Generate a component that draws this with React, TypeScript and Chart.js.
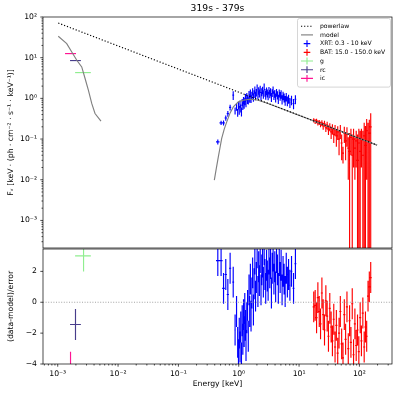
import React, { useEffect, useRef } from 'react';
import { Chart, registerables } from 'chart.js';

Chart.register(...registerables);

const FONT = "'DejaVu Sans', sans-serif";

// ---------- text ----------
const TITLE = '319s - 379s';
const X_LABEL = 'Energy [keV]';
const Y_LABEL_TOP = 'F\u1D65 [keV \u00B7 (ph \u00B7 cm\u207B\u00B2 \u00B7 s\u207B\u00B9 \u00B7 keV\u207B\u00B9)]';
const Y_LABEL_RES = '(data-model)/error';

// ---------- axis ranges ----------
const X_RANGE = [5.7e-4, 347];
const Y_RANGE_TOP = [2.1e-4, 100];
const Y_RANGE_RES = [-4, 3.45];
const RES_TICKS = [-4, -2, 0, 2];

// ---------- model curves ----------
const powerlawE = [1.02e-3, 196];
const powerlawF = [71, 0.071];

const modelOptE = [1.02e-3, 1.41e-3, 1.71e-3, 2.07e-3, 2.5e-3, 2.84e-3, 3.22e-3, 3.66e-3, 4.15e-3, 5.21e-3];
const modelOptF = [33.6, 22.2, 13.8, 8.65, 5.93, 3.08, 1.59, 0.75, 0.425, 0.275];
const modelXE = [0.394, 0.425, 0.459, 0.49, 0.522, 0.575, 0.633, 0.72, 0.814, 0.985, 1.19, 1.54, 2.1, 2.91, 196];
const modelXF = [0.0098, 0.019, 0.0366, 0.062, 0.1035, 0.175, 0.265, 0.44, 0.618, 0.82, 0.9, 0.955, 0.9, 0.77, 0.071];

// ---------- XRT ----------
const xrtE = [
  0.45, 0.51, 0.56, 0.61, 0.66, 0.72, 0.81, 0.87, 0.92, 0.96,
  0.99, 1.02, 1.05, 1.08, 1.11, 1.14, 1.17, 1.20, 1.23, 1.26,
  1.29, 1.32, 1.36, 1.40, 1.44, 1.48, 1.52, 1.56, 1.60, 1.65,
  1.70, 1.75, 1.80, 1.85, 1.90, 1.96, 2.02, 2.08, 2.14, 2.20,
  2.27, 2.34, 2.41, 2.48, 2.56, 2.64, 2.72, 2.80, 2.89, 2.98,
  3.07, 3.17, 3.27, 3.37, 3.48, 3.59, 3.71, 3.83, 3.96, 4.09,
  4.23, 4.38, 4.53, 4.69, 4.86, 5.04, 5.23, 5.43, 5.65, 5.88,
  6.13, 6.40, 6.70, 7.05, 7.50, 8.10, 8.70,
];
const xrtEHalf = [
  0.030, 0.030, 0.028, 0.028, 0.028, 0.030, 0.028, 0.022, 0.018, 0.015,
  0.015, 0.015, 0.015, 0.015, 0.015, 0.015, 0.015, 0.015, 0.015, 0.015,
  0.016, 0.018, 0.020, 0.020, 0.020, 0.020, 0.020, 0.020, 0.022, 0.025,
  0.025, 0.025, 0.025, 0.025, 0.028, 0.030, 0.030, 0.030, 0.030, 0.033,
  0.035, 0.035, 0.035, 0.037, 0.040, 0.040, 0.040, 0.043, 0.045, 0.045,
  0.048, 0.050, 0.050, 0.053, 0.055, 0.058, 0.060, 0.063, 0.065, 0.068,
  0.070, 0.075, 0.078, 0.080, 0.085, 0.090, 0.095, 0.100, 0.110, 0.115,
  0.125, 0.135, 0.150, 0.180, 0.220, 0.280, 0.300,
];
const xrtF = [
  0.085, 0.25, 0.25, 0.33, 0.42, 0.60, 1.20, 0.50, 0.62, 0.45,
  0.68, 0.52, 0.74, 0.58, 0.48, 0.80, 0.66, 0.90, 0.72, 0.86,
  1.05, 0.80, 1.12, 0.95, 0.88, 1.25, 1.02, 1.38, 0.98, 1.20,
  1.48, 1.08, 1.30, 1.62, 1.18, 1.40, 1.85, 1.22, 1.55, 1.35,
  1.70, 1.15, 1.45, 1.60, 1.28, 1.95, 1.40, 1.22, 1.52, 1.35,
  1.18, 1.58, 1.30, 1.45, 1.08, 1.38, 1.62, 1.20, 1.32, 1.05,
  1.40, 1.22, 0.98, 1.35, 1.15, 1.28, 0.95, 1.18, 1.05, 0.90,
  1.10, 0.88, 0.98, 0.80, 0.92, 0.75, 0.95,
];
const xrtRelErr = [
  0.14, 0.12, 0.14, 0.15, 0.16, 0.16, 0.24, 0.20, 0.20, 0.22,
  0.22, 0.24, 0.20, 0.22, 0.25, 0.20, 0.22, 0.20, 0.23, 0.21,
  0.22, 0.24, 0.21, 0.23, 0.20, 0.22, 0.24, 0.20, 0.22, 0.21,
  0.20, 0.23, 0.22, 0.20, 0.24, 0.21, 0.19, 0.23, 0.21, 0.22,
  0.20, 0.24, 0.22, 0.21, 0.23, 0.19, 0.22, 0.24, 0.21, 0.22,
  0.24, 0.21, 0.23, 0.22, 0.25, 0.22, 0.20, 0.24, 0.22, 0.25,
  0.22, 0.23, 0.26, 0.22, 0.24, 0.23, 0.26, 0.24, 0.25, 0.27,
  0.24, 0.27, 0.25, 0.28, 0.26, 0.28, 0.25,
];
const xrtRes = [
  2.7, 2.7, 0.9, 1.8, 0.5, 2.2, 1.3, -1.8, -0.6, -2.6,
  -3.4, -2.0, -2.9, -1.6, -3.6, -1.2, -2.4, -0.8, -1.9, -0.4,
  -1.5, -2.8, -1.0, -0.2, -2.2, 0.8, -0.6, 1.5, -0.9, 0.6,
  1.9, -0.5, 1.2, 2.8, 0.4, 1.6, 3.2, 0.7, 2.3, 1.4,
  2.9, 0.8, 2.1, 2.6, 1.3, 3.4, 1.8, 0.9, 2.4, 1.7,
  1.1, 2.8, 1.9, 2.5, 0.6, 2.2, 3.0, 1.5, 2.3, 1.0,
  2.9, 2.1, 0.9, 2.7, 1.6, 2.4, 0.8, 2.0, 1.5, 0.7,
  2.2, 1.3, 1.8, 1.1, 2.0, 0.9, 2.5,
];

// ---------- BAT ----------
const batE = [
  17.5, 18.5, 19.5, 20.5, 21.6, 22.7, 23.9, 25.1, 26.4, 27.8,
  29.2, 30.7, 32.3, 34.0, 35.7, 37.6, 39.5, 41.5, 43.7, 46.0,
  48.3, 50.8, 53.5, 56.2, 59.1, 62.2, 65.4, 68.8, 72.4, 76.1,
  80.0, 84.2, 88.5, 93.1, 97.9, 103, 108, 114, 120, 126,
  132, 139, 146, 154,
];
const batEHalf = [
  0.7, 0.74, 0.78, 0.82, 0.86, 0.9, 0.95, 1.0, 1.05, 1.1,
  1.15, 1.22, 1.28, 1.35, 1.42, 1.5, 1.58, 1.66, 1.75, 1.84,
  1.93, 2.03, 2.14, 2.25, 2.36, 2.48, 2.6, 2.75, 2.9, 3.05,
  3.2, 3.37, 3.54, 3.72, 3.9, 4.1, 4.3, 4.55, 4.8, 5.05,
  5.3, 5.55, 5.85, 6.15,
];
const batF = [
  0.29, 0.27, 0.28, 0.25, 0.26, 0.23, 0.25, 0.21, 0.24, 0.19,
  0.22, 0.17, 0.20, 0.15, 0.18, 0.13, 0.17, 0.12, 0.15, 0.10,
  0.16, 0.08, 0.045, 0.14, 0.09, 0.13, 0.06, 0.05, 0.11, 0.04,
  0.10, 0.06, 0.09, 0.03, 0.08, 0.05, 0.10, 0.04, 0.12, 0.07,
  0.16, 0.09, 0.14, 0.20,
];
const batErr = [
  0.035, 0.035, 0.035, 0.035, 0.035, 0.035, 0.04, 0.04, 0.04, 0.04,
  0.045, 0.045, 0.045, 0.05, 0.05, 0.05, 0.05, 0.055, 0.055, 0.06,
  0.06, 0.05, 0.02, 0.06, 0.06, 0.065, 0.05, 0.09, 0.07, 0.09,
  0.08, 0.05, 0.07, 0.10, 0.10, 0.11, 0.08, 0.12, 0.13, 0.14,
  0.15, 0.16, 0.16, 0.23,
];
const batRes = [
  -0.3, -0.2, -1.0, 0.3, -0.6, -1.4, 0.6, -0.8, -1.8, 0.1,
  -0.9, -2.2, -0.4, -1.6, -2.5, -1.1, -2.9, -1.5, -3.3, -2.0,
  -0.6, -2.7, -3.6, -0.8, -2.4, -0.3, -3.0, -1.2, -2.6, -0.1,
  -3.4, -1.4, -2.8, -1.8, -3.2, -1.0, -2.5, -0.7, -2.9, -1.6,
  -2.2, 0.4, 1.0, 1.6,
];

// ---------- optical / UV filters ----------
const filterNames = ['g', 'rc', 'ic'];
const filterE = [2.68e-3, 1.97e-3, 1.63e-3];
const filterELo = [1.94e-3, 1.60e-3, 1.32e-3];
const filterEHi = [3.54e-3, 2.42e-3, 2.01e-3];
const filterF = [4.3, 8.5, 12.6];
const filterRes = [3.0, -1.44, -4.2];
const filterColors = ['#90ee90', '#483d8b', '#ff1493'];

const RES_ERR = 1; // residuals are in units of the error

// ---------- helpers ----------
const SUP: Record<string, string> = {
  '-': '\u207B', '0': '\u2070', '1': '\u00B9', '2': '\u00B2', '3': '\u00B3',
  '4': '\u2074', '5': '\u2075', '6': '\u2076', '7': '\u2077', '8': '\u2078', '9': '\u2079',
};
const pow10Label = (v: number) =>
  '10' + String(Math.round(Math.log10(v))).split('').map((c) => SUP[c]).join('');

function logTicks(scale: any) {
  const out: any[] = [];
  for (let e = -5; e <= 3; e++) {
    for (let m = 1; m <= 9; m++) {
      const v = m * Math.pow(10, e);
      if (v >= scale.min * 0.9999 && v <= scale.max * 1.0001) out.push({ value: v, major: m === 1 });
    }
  }
  scale.ticks = out;
}
const decadeLabel = (_v: any, i: number, ticks: any[]) => (ticks[i].major ? pow10Label(ticks[i].value) : '');

const errPts = (E: number[], V: number[], eLo: number[], eHi: number[], vErr: number[]) =>
  E.map((x, i) => ({ x, y: V[i], xlo: eLo[i], xhi: eHi[i], ylo: V[i] - vErr[i], yhi: V[i] + vErr[i] }));

// fix the axis box sizes so the plot areas sit exactly where the reference has them
const fixWidth = (w: number) => (s: any) => {
  s.width = w;
  s.paddingTop = 0;
  s.paddingBottom = 0;
};
const fixHeight = (h: number) => (s: any) => {
  s.height = h;
  s.paddingLeft = 0;
  s.paddingRight = 0;
};

// ---------- plugins ----------
const errorBarPlugin = {
  id: 'errorBars',
  beforeDatasetsDraw(chart: any) {
    const { ctx, chartArea: a } = chart;
    const xs = chart.scales.x;
    const ys = chart.scales.y;
    const isLog = ys.type === 'logarithmic';
    const py = (v: number) => (isLog && v <= 0 ? a.bottom + 5 : ys.getPixelForValue(v));
    ctx.save();
    ctx.beginPath();
    ctx.rect(a.left, a.top, a.right - a.left, a.bottom - a.top);
    ctx.clip();
    chart.data.datasets.forEach((ds: any) => {
      if (!ds.errorBars) return;
      ctx.strokeStyle = ds.borderColor;
      ctx.lineWidth = 1.15;
      ctx.beginPath();
      ds.data.forEach((p: any) => {
        const cx = xs.getPixelForValue(p.x);
        if (!isLog || p.y > 0) {
          const cy = ys.getPixelForValue(p.y);
          ctx.moveTo(xs.getPixelForValue(p.xlo), cy);
          ctx.lineTo(xs.getPixelForValue(p.xhi), cy);
        }
        ctx.moveTo(cx, py(p.ylo));
        ctx.lineTo(cx, py(p.yhi));
      });
      ctx.stroke();
    });
    ctx.restore();
  },
};

const framePlugin = {
  id: 'mplFrame',
  afterDraw(chart: any) {
    const { ctx, chartArea: a } = chart;
    ctx.save();
    ctx.strokeStyle = '#000';
    ctx.lineWidth = 0.7;
    Object.values(chart.scales).forEach((s: any) => {
      if (s.options.display === false) return;
      s.ticks.forEach((t: any) => {
        const major = s.type !== 'logarithmic' || t.major;
        const len = major ? 2.7 : 1.5;
        ctx.beginPath();
        if (s.isHorizontal()) {
          const px = s.getPixelForValue(t.value);
          ctx.moveTo(px, a.bottom);
          ctx.lineTo(px, a.bottom + len);
        } else {
          const py = s.getPixelForValue(t.value);
          ctx.moveTo(a.left - len, py);
          ctx.lineTo(a.left, py);
        }
        ctx.stroke();
      });
    });
    ctx.strokeRect(a.left, a.top, a.right - a.left, a.bottom - a.top);
    ctx.restore();
  },
};

const titlePlugin = {
  id: 'mplTitle',
  afterDraw(chart: any) {
    const { ctx, chartArea: a } = chart;
    ctx.save();
    ctx.font = `9.2px ${FONT}`;
    ctx.fillStyle = '#000';
    ctx.textAlign = 'center';
    ctx.textBaseline = 'middle';
    ctx.fillText(TITLE, (a.left + a.right) / 2, 9);
    ctx.restore();
  },
};

const legendPlugin = {
  id: 'boxLegend',
  afterDraw(chart: any) {
    const { ctx, chartArea: a } = chart;
    const items = chart.data.datasets.filter((d: any) => d.label);
    const rowH = 8.7;
    const w = 93;
    const h = 7.7 + rowH * (items.length - 1) + 8.7;
    const left = a.right - 1.5 - w;
    const top = a.top + 1.5;
    ctx.save();
    ctx.beginPath();
    const r = 2;
    ctx.moveTo(left + r, top);
    ctx.arcTo(left + w, top, left + w, top + h, r);
    ctx.arcTo(left + w, top + h, left, top + h, r);
    ctx.arcTo(left, top + h, left, top, r);
    ctx.arcTo(left, top, left + w, top, r);
    ctx.closePath();
    ctx.fillStyle = 'rgba(255,255,255,0.8)';
    ctx.fill();
    ctx.strokeStyle = '#cccccc';
    ctx.lineWidth = 0.8;
    ctx.stroke();
    items.forEach((d: any, i: number) => {
      const cy = top + 7.7 + i * rowH;
      const x0 = left + 3.5;
      const x1 = left + 15.5;
      const cx = (x0 + x1) / 2;
      ctx.strokeStyle = d.borderColor;
      ctx.lineWidth = 1.15;
      ctx.setLineDash([]);
      ctx.beginPath();
      if (d.legendStyle === 'line') {
        if (d.borderDash) ctx.setLineDash(d.borderDash);
        ctx.moveTo(x0, cy);
        ctx.lineTo(x1, cy);
      } else if (d.legendStyle === 'cross') {
        ctx.moveTo(cx - 3.3, cy);
        ctx.lineTo(cx + 3.3, cy);
        ctx.moveTo(cx, cy - 3.4);
        ctx.lineTo(cx, cy + 3.4);
      } else {
        ctx.moveTo(x0, cy);
        ctx.lineTo(x1, cy);
        ctx.moveTo(cx, cy - 3.4);
        ctx.lineTo(cx, cy + 3.4);
      }
      ctx.stroke();
      ctx.setLineDash([]);
      ctx.fillStyle = '#000';
      ctx.font = `6.1px ${FONT}`;
      ctx.textAlign = 'left';
      ctx.textBaseline = 'middle';
      ctx.fillText(d.label, left + 22.5, cy + 0.3);
    });
    ctx.restore();
  },
};

// ---------- datasets ----------
function topDatasets() {
  const xrtAbsErr = xrtF.map((f, i) => f * xrtRelErr[i]);
  return [
    {
      label: 'powerlaw',
      data: powerlawE.map((x, i) => ({ x, y: powerlawF[i] })),
      showLine: true, borderColor: '#000000', borderWidth: 1.15, borderDash: [1.2, 1.9],
      pointRadius: 0, legendStyle: 'line',
    },
    {
      label: 'model',
      data: [
        ...modelOptE.map((x, i) => ({ x, y: modelOptF[i] })),
        { x: 0.05, y: null },
        ...modelXE.map((x, i) => ({ x, y: modelXF[i] })),
      ],
      showLine: true, spanGaps: false, borderColor: '#808080', borderWidth: 1.15,
      pointRadius: 0, legendStyle: 'line',
    },
    {
      label: 'XRT: 0.3 - 10 keV',
      data: errPts(xrtE, xrtF, xrtE.map((e, i) => e - xrtEHalf[i]), xrtE.map((e, i) => e + xrtEHalf[i]), xrtAbsErr),
      showLine: false, pointRadius: 0, borderColor: '#0000ff', errorBars: true, legendStyle: 'cross',
    },
    {
      label: 'BAT: 15.0 - 150.0 keV',
      data: errPts(batE, batF, batE.map((e, i) => e - batEHalf[i]), batE.map((e, i) => e + batEHalf[i]), batErr),
      showLine: false, pointRadius: 0, borderColor: '#ff0000', errorBars: true, legendStyle: 'cross',
    },
    ...filterNames.map((name, i) => ({
      label: name,
      data: errPts([filterE[i]], [filterF[i]], [filterELo[i]], [filterEHi[i]], [0]),
      showLine: false, pointRadius: 0, borderColor: filterColors[i], errorBars: true, legendStyle: 'wide',
    })),
  ];
}

function resDatasets() {
  const ones = (n: number) => new Array(n).fill(RES_ERR);
  return [
    {
      data: [{ x: X_RANGE[0], y: 0 }, { x: X_RANGE[1], y: 0 }],
      showLine: true, borderColor: '#999999', borderWidth: 0.9, borderDash: [1, 1.6], pointRadius: 0,
    },
    {
      data: errPts(xrtE, xrtRes, xrtE.map((e, i) => e - xrtEHalf[i]), xrtE.map((e, i) => e + xrtEHalf[i]), ones(xrtE.length)),
      showLine: false, pointRadius: 0, borderColor: '#0000ff', errorBars: true,
    },
    {
      data: errPts(batE, batRes, batE.map((e, i) => e - batEHalf[i]), batE.map((e, i) => e + batEHalf[i]), ones(batE.length)),
      showLine: false, pointRadius: 0, borderColor: '#ff0000', errorBars: true,
    },
    ...filterNames.map((_n, i) => ({
      data: errPts([filterE[i]], [filterRes[i]], [filterELo[i]], [filterEHi[i]], [RES_ERR]),
      showLine: false, pointRadius: 0, borderColor: filterColors[i], errorBars: true,
    })),
  ];
}

const tickFont = { size: 7.7, family: FONT };

function baseOptions() {
  return {
    responsive: false,
    animation: false,
    devicePixelRatio: 1,
    events: [],
    plugins: { legend: { display: false }, tooltip: { enabled: false }, title: { display: false } },
  };
}

export default function App() {
  const topRef = useRef<HTMLCanvasElement>(null);
  const resRef = useRef<HTMLCanvasElement>(null);

  useEffect(() => {
    Chart.defaults.font.family = FONT;
    Chart.defaults.color = '#000';

    const top = new Chart(topRef.current as HTMLCanvasElement, {
      type: 'scatter',
      data: { datasets: topDatasets() as any },
      options: {
        ...baseOptions(),
        layout: { padding: { left: 0, top: 17, right: 6, bottom: 2 } },
        scales: {
          x: {
            type: 'logarithmic', display: false, bounds: 'data',
            min: X_RANGE[0], max: X_RANGE[1],
          },
          y: {
            type: 'logarithmic', bounds: 'data',
            min: Y_RANGE_TOP[0], max: Y_RANGE_TOP[1],
            afterBuildTicks: logTicks,
            afterFit: fixWidth(43),
            grid: { display: false, drawTicks: false },
            border: { display: false },
            ticks: { autoSkip: false, padding: 6, color: '#000', font: tickFont, callback: decadeLabel },
            title: {
              display: true, text: Y_LABEL_TOP, color: '#000',
              font: { size: 7.7, family: FONT }, padding: { top: 6, bottom: 0 },
            },
          },
        },
      } as any,
      plugins: [errorBarPlugin, framePlugin, titlePlugin, legendPlugin],
    });

    const res = new Chart(resRef.current as HTMLCanvasElement, {
      type: 'scatter',
      data: { datasets: resDatasets() as any },
      options: {
        ...baseOptions(),
        layout: { padding: { left: 0, top: 9, right: 6, bottom: 2 } },
        scales: {
          x: {
            type: 'logarithmic', bounds: 'data',
            min: X_RANGE[0], max: X_RANGE[1],
            afterBuildTicks: logTicks,
            afterFit: fixHeight(29),
            grid: { display: false, drawTicks: false },
            border: { display: false },
            ticks: { autoSkip: false, maxRotation: 0, minRotation: 0, padding: 5, color: '#000', font: tickFont, callback: decadeLabel },
            title: {
              display: true, text: X_LABEL, color: '#000',
              font: { size: 7.7, family: FONT }, padding: { top: 0, bottom: 4 },
            },
          },
          y: {
            type: 'linear', bounds: 'data',
            min: Y_RANGE_RES[0], max: Y_RANGE_RES[1],
            afterBuildTicks: (s: any) => { s.ticks = RES_TICKS.map((v) => ({ value: v, major: true })); },
            afterFit: fixWidth(43),
            grid: { display: false, drawTicks: false },
            border: { display: false },
            ticks: {
              autoSkip: false, padding: 6, color: '#000', font: tickFont,
              callback: (v: number) => (v < 0 ? '\u2212' + Math.abs(v) : String(v)),
            },
            title: {
              display: true, text: Y_LABEL_RES, color: '#000',
              font: { size: 7.7, family: FONT }, padding: { top: 6, bottom: 0 },
            },
          },
        },
      } as any,
      plugins: [errorBarPlugin, framePlugin],
    });

    return () => {
      top.destroy();
      res.destroy();
    };
  }, []);

  return (
    <div style={{ position: 'fixed', left: 0, top: 0, width: 398, height: 395, background: '#ffffff' }}>
      <canvas ref={topRef} width={398} height={250} style={{ position: 'absolute', left: 0, top: 0 }} />
      <canvas ref={resRef} width={398} height={155} style={{ position: 'absolute', left: 0, top: 240 }} />
    </div>
  );
}
